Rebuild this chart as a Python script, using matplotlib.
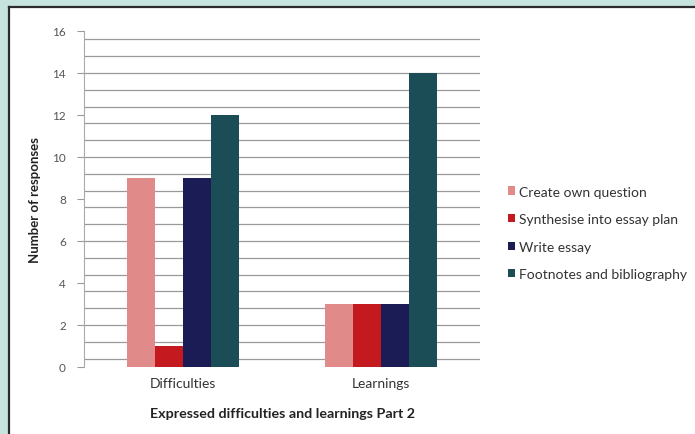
import matplotlib
matplotlib.use("Agg")
import matplotlib.pyplot as plt
import numpy as np
from matplotlib.patches import Rectangle
from matplotlib.lines import Line2D

categories = ["Difficulties", "Learnings"]
series_names = ["Create own question", "Synthesise into essay plan",
                "Write essay", "Footnotes and bibliography"]
create_own_question = [9, 3]
synthesise_into_plan = [1, 3]
write_essay = [9, 3]
footnotes_bibliography = [12, 14]
y_ticks = [0, 2, 4, 6, 8, 10, 12, 14, 16]

series_values = [create_own_question, synthesise_into_plan, write_essay, footnotes_bibliography]
colors = ["#e08a8a", "#c4191f", "#1b1b56", "#1b4d56"]

plt.rcParams["font.family"] = ["Lato", "DejaVu Sans"]

fig = plt.figure(figsize=(6.95, 4.35), dpi=100)
fig.patch.set_facecolor("#c6e3de")

# white panel with dark left/top border
W, H = 695, 435
fig.add_artist(Rectangle((9 / W, 0), 1 - 9 / W, (H - 8) / H, transform=fig.transFigure,
                         facecolor="white", edgecolor="none", zorder=0))
fig.add_artist(Line2D([9 / W, 9 / W], [0, (H - 8) / H], transform=fig.transFigure,
                      color="#2a2a2a", lw=1.6, zorder=1))
fig.add_artist(Line2D([9 / W, 1], [(H - 8) / H, (H - 8) / H], transform=fig.transFigure,
                      color="#2a2a2a", lw=1.6, zorder=1))

ax = fig.add_axes([84 / W, (H - 368) / H, (480 - 84) / W, (368 - 32) / H])
ax.set_facecolor("none")

x = np.arange(len(categories))
bar_w = 0.1414
n = len(series_names)
for i, (name, vals, c) in enumerate(zip(series_names, series_values, colors)):
    offs = (i - (n - 1) / 2) * bar_w
    ax.bar(x + offs, vals, width=bar_w, color=c, label=name, zorder=3)

ax.set_xlim(-0.5, 1.5)
ax.set_ylim(0, 16)

# horizontal grid lines
for g in np.arange(0.4, 16, 0.8):
    ax.axhline(g, color="#9a9a9a", lw=0.9, zorder=1)

ax.set_yticks(y_ticks)
ax.set_yticklabels([str(t) for t in y_ticks], fontsize=8.5, color="#555555")
ax.tick_params(axis="y", length=5, color="#999999", pad=8)
ax.set_xticks(x)
ax.set_xticklabels(categories, fontsize=10, color="#333333")
ax.tick_params(axis="x", length=0, pad=7)

for s in ["top", "right", "bottom"]:
    ax.spines[s].set_visible(False)
ax.spines["left"].set_color("#aaaaaa")

ax.set_ylabel("Number of responses", fontsize=9.5, fontweight="bold", color="#222222", labelpad=8)
ax.set_xlabel("Expressed difficulties and learnings Part 2", fontsize=10.3,
              fontweight="bold", color="#222222", labelpad=13)

leg = ax.legend(loc="upper left", bbox_to_anchor=(502 / W, (H - 181) / H),
                bbox_transform=fig.transFigure, frameon=False, fontsize=10,
                handlelength=0.55, handleheight=0.55, handletextpad=0.3,
                labelspacing=1.12, borderaxespad=0)
for t in leg.get_texts():
    t.set_color("#333333")

fig.savefig("out.png", dpi=100, facecolor=fig.get_facecolor())
